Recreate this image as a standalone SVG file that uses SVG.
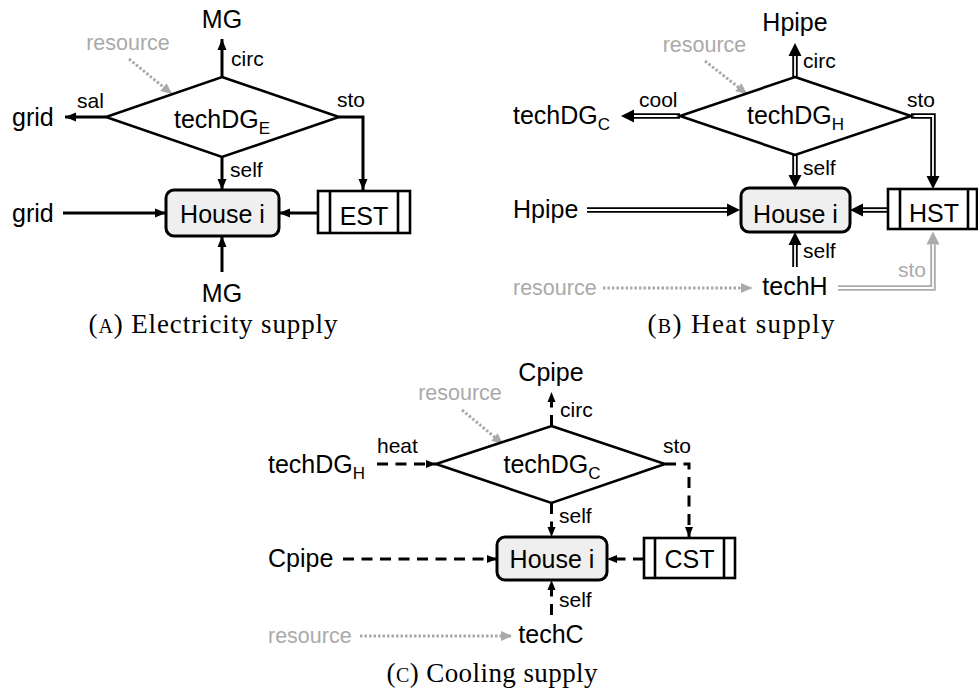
<svg xmlns="http://www.w3.org/2000/svg" width="978" height="699" viewBox="0 0 978 699">
<style>
.t{font-family:"Liberation Sans",Arial,sans-serif;font-size:25px;fill:#000}
.s{font-family:"Liberation Sans",Arial,sans-serif;font-size:21px;fill:#000}
.g{font-family:"Liberation Sans",Arial,sans-serif;font-size:21.5px;fill:#aaa}
.sub{font-size:17px}
.m{text-anchor:middle}
.cap{font-family:"Liberation Serif","Times New Roman",serif;font-size:27px;fill:#000;text-anchor:middle}
.sc{font-size:20px}
.dia{fill:#fff;stroke:#000;stroke-width:2.6}
.house{fill:#efefef;stroke:#000;stroke-width:3}
.st{fill:#fff;stroke:#000;stroke-width:2.6}
.stl{stroke:#000;stroke-width:2.6;fill:none}
.la{fill:none;stroke:#000;stroke-width:3;marker-end:url(#arrA)}
.db{fill:none;stroke:#000;stroke-width:5.5;marker-end:url(#arrB)}
.dbg{fill:none;stroke:#aaa;stroke-width:5.5;marker-end:url(#arrBg)}
.dbi{fill:none;stroke:#fff;stroke-width:1.8}
.dc{fill:none;stroke:#000;stroke-width:3;stroke-dasharray:11 7.5;marker-end:url(#arrC)}
.dt{fill:none;stroke:#aaa;stroke-width:3;stroke-dasharray:2.5 2;marker-end:url(#arrG)}
</style>
<defs>
<marker id="arrA" markerUnits="userSpaceOnUse" markerWidth="14" markerHeight="12" viewBox="0 -6 12 12" refX="11" refY="0" orient="auto"><path d="M0,-4.5 L11,0 L0,4.5 z" fill="#000"/></marker>
<marker id="arrB" markerUnits="userSpaceOnUse" markerWidth="14" markerHeight="14" viewBox="0 -7 14 14" refX="0" refY="0" orient="auto"><path d="M0,-6.5 L13,0 L0,6.5 z" fill="#000"/></marker>
<marker id="arrBg" markerUnits="userSpaceOnUse" markerWidth="14" markerHeight="14" viewBox="0 -7 14 14" refX="0" refY="0" orient="auto"><path d="M0,-6.5 L13,0 L0,6.5 z" fill="#aaa"/></marker>
<marker id="arrC" markerUnits="userSpaceOnUse" markerWidth="12" markerHeight="10" viewBox="0 -5 11 10" refX="10" refY="0" orient="auto"><path d="M0,-4 L10,0 L0,4 z" fill="#000"/></marker>
<marker id="arrG" markerUnits="userSpaceOnUse" markerWidth="13" markerHeight="12" viewBox="0 -6 12 12" refX="11" refY="0" orient="auto"><path d="M0,-5 L11,0 L0,5 z" fill="#aaa"/></marker>
</defs>

<!-- ===== Panel A ===== -->
<g id="connectors-a">
<path class="la" d="M222,77 V39"/>
<path class="dt" d="M129,59 L172,94"/>
<path class="la" d="M106,117 H65"/>
<path class="la" d="M339,117 H363 V190"/>
<path class="la" d="M222,157 V190"/>
<path class="la" d="M63,213 H166"/>
<path class="la" d="M318,213 H279"/>
<path class="la" d="M222,272 V236"/>
</g>
<g id="a-techDG">
<polygon class="dia" points="222,77 339,117 222,157 106,117"/>
<text class="t m" x="222" y="128">techDG<tspan class="sub" dy="6">E</tspan></text>
</g>
<g id="a-house"><rect class="house" x="166" y="190" width="113" height="46" rx="8"/><text class="t m" x="222.5" y="223">House i</text></g>
<g id="a-est"><rect class="st" x="318" y="191" width="92" height="42"/><line class="stl" x1="330" y1="191" x2="330" y2="233"/><line class="stl" x1="398" y1="191" x2="398" y2="233"/><text class="t m" x="364" y="225">EST</text></g>
<g id="a-mg-top"><text class="t m" x="222" y="28">MG</text></g>
<g id="a-mg-bot"><text class="t m" x="222" y="302">MG</text></g>
<g id="a-grid-top"><text class="t" x="12" y="126">grid</text></g>
<g id="a-grid-bot"><text class="t" x="12" y="222">grid</text></g>
<g id="a-resource"><text class="g m" x="128" y="50">resource</text></g>
<g id="a-labels">
<text class="s" x="231" y="66">circ</text>
<text class="s" x="77" y="108">sal</text>
<text class="s" x="337" y="107">sto</text>
<text class="s" x="230" y="177">self</text>
</g>
<text class="cap" x="213" y="333" textLength="249" lengthAdjust="spacing">(<tspan class="sc">A</tspan>) Electricity supply</text>

<!-- ===== Panel B ===== -->
<g id="connectors-b">
<path class="db" d="M795,77 V56"/><path class="dbi" d="M795,77 V56"/>
<path class="dt" d="M705,61 L747,94"/>
<path class="db" d="M680,116 H634"/><path class="dbi" d="M680,116 H634"/>
<path class="db" d="M911,116 H933 V176"/><path class="dbi" d="M911,116 H933 V176"/>
<path class="db" d="M795,155 V175"/><path class="dbi" d="M795,155 V175"/>
<path class="db" d="M587,210 H727"/><path class="dbi" d="M587,210 H727"/>
<path class="db" d="M888,210 H863"/><path class="dbi" d="M888,210 H863"/>
<path class="db" d="M795,267 V245"/><path class="dbi" d="M795,267 V245"/>
<path class="dt" d="M603,288 H752"/>
<path class="dbg" d="M838,288 H933 V244.5"/><path class="dbi" d="M838,288 H933 V244.5"/>
</g>
<g id="b-techDG">
<polygon class="dia" points="795,77 911,116 795,155 680,116"/>
<text class="t m" x="795.5" y="124">techDG<tspan class="sub" dy="6">H</tspan></text>
</g>
<g id="b-house"><rect class="house" x="741" y="188" width="109" height="44" rx="8"/><text class="t m" x="795.5" y="223">House i</text></g>
<g id="b-hst"><rect class="st" x="888" y="189" width="89" height="40"/><line class="stl" x1="900" y1="189" x2="900" y2="229"/><line class="stl" x1="968" y1="189" x2="968" y2="229"/><text class="t m" x="934" y="222">HST</text></g>
<g id="b-hpipe-top"><text class="t m" x="795" y="31">Hpipe</text></g>
<g id="b-techDGC"><text class="t" x="513" y="124">techDG<tspan class="sub" dy="6">C</tspan></text></g>
<g id="b-hpipe-left"><text class="t" x="513" y="218">Hpipe</text></g>
<g id="b-techH"><text class="t m" x="795" y="295">techH</text></g>
<g id="b-resource-top"><text class="g m" x="704.5" y="52">resource</text></g>
<g id="b-resource-left"><text class="g" x="513" y="295">resource</text></g>
<g id="b-labels">
<text class="s" x="803" y="68">circ</text>
<text class="s" x="639" y="107">cool</text>
<text class="s" x="907" y="107">sto</text>
<text class="s" x="803" y="175">self</text>
<text class="s" x="803" y="258">self</text>
<text class="g" x="898" y="277" style="font-size:21px">sto</text>
</g>
<text class="cap" x="741" y="333" textLength="187" lengthAdjust="spacing">(<tspan class="sc">B</tspan>) Heat supply</text>

<!-- ===== Panel C ===== -->
<g id="connectors-c">
<path class="dc" d="M551.5,426 V392"/>
<path class="dt" d="M462,410 L503,444"/>
<path class="dc" d="M377,464 H436"/>
<path class="dc" d="M665,464 H689 V537"/>
<path class="dc" d="M551.5,503 V537"/>
<path class="dc" d="M343,559 H497"/>
<path class="dc" d="M644,559 H607"/>
<path class="dc" d="M551.5,615 V580"/>
<path class="dt" d="M360,636 H512"/>
</g>
<g id="c-techDG">
<polygon class="dia" points="551.5,426 665,464 551.5,503 436,464"/>
<text class="t m" x="552" y="473">techDG<tspan class="sub" dy="6">C</tspan></text>
</g>
<g id="c-house"><rect class="house" x="497" y="537" width="110" height="43" rx="8"/><text class="t m" x="552" y="568">House i</text></g>
<g id="c-cst"><rect class="st" x="644" y="538" width="91" height="40"/><line class="stl" x1="655" y1="538" x2="655" y2="578"/><line class="stl" x1="724" y1="538" x2="724" y2="578"/><text class="t m" x="689.5" y="568">CST</text></g>
<g id="c-cpipe-top"><text class="t m" x="551" y="381">Cpipe</text></g>
<g id="c-techDGH"><text class="t" x="268" y="473">techDG<tspan class="sub" dy="6">H</tspan></text></g>
<g id="c-cpipe-left"><text class="t" x="268" y="567">Cpipe</text></g>
<g id="c-techC"><text class="t m" x="551" y="643">techC</text></g>
<g id="c-resource-top"><text class="g m" x="460" y="400">resource</text></g>
<g id="c-resource-left"><text class="g" x="268" y="643">resource</text></g>
<g id="c-labels">
<text class="s" x="560" y="417">circ</text>
<text class="s" x="377" y="453">heat</text>
<text class="s" x="663" y="453">sto</text>
<text class="s" x="559" y="523">self</text>
<text class="s" x="559" y="607">self</text>
</g>
<text class="cap" x="492" y="682" textLength="211" lengthAdjust="spacing">(<tspan class="sc">C</tspan>) Cooling supply</text>
</svg>
